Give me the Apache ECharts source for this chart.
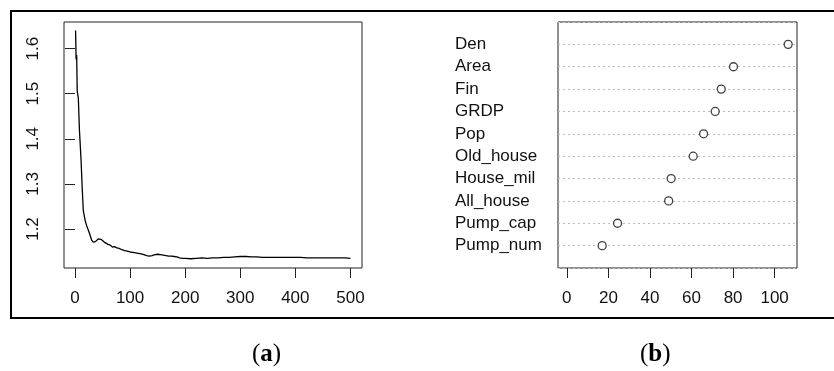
<!DOCTYPE html>
<html>
<head>
<meta charset="utf-8">
<script src="https://cdn.jsdelivr.net/npm/echarts@6/dist/echarts.min.js"></script>
<style>
html,body{margin:0;padding:0;background:#fff;}
#chart{width:834px;height:371px;}
</style>
</head>
<body>
<div id="chart"></div>
<script>
// Panel (a): error vs number of trees
const treeX = [1,2,3,4,5,6,8,11,13,15,17,19,21,23,26,28,30,33,35,37,39,42,44,47,50,53,56,60,64,68,72,76,80,85,90,95,100,105,110,115,120,125,130,135,140,145,150,155,160,165,170,175,180,185,190,195,200,210,220,230,240,250,260,270,280,290,300,310,320,330,340,350,360,370,380,390,400,410,420,430,440,450,460,470,480,490,500];
const treeErr = [1.640,1.576,1.586,1.505,1.503,1.491,1.420,1.352,1.293,1.241,1.228,1.216,1.208,1.204,1.191,1.184,1.176,1.171,1.168,1.172,1.176,1.178,1.179,1.177,1.173,1.171,1.168,1.166,1.164,1.160,1.161,1.158,1.157,1.154,1.152,1.151,1.149,1.148,1.147,1.146,1.145,1.143,1.141,1.140,1.141,1.143,1.144,1.143,1.142,1.141,1.140,1.140,1.139,1.138,1.136,1.135,1.135,1.134,1.135,1.136,1.135,1.136,1.136,1.137,1.137,1.138,1.139,1.139,1.138,1.138,1.137,1.137,1.137,1.137,1.137,1.137,1.137,1.137,1.136,1.136,1.136,1.136,1.136,1.136,1.136,1.136,1.135];
const aXTicks = [0,100,200,300,400,500];
const aYTicks = [1.2,1.3,1.4,1.5,1.6];

// Panel (b): variable importance (top to bottom)
const varNames = ["Den","Area","Fin","GRDP","Pop","Old_house","House_mil","All_house","Pump_cap","Pump_num"];
const varImp = [106.5,80.2,74.3,71.4,65.8,60.8,50.2,49.0,24.4,17.0];
const bXTicks = [0,20,40,60,80,100];

const n = varNames.length;
const dotData = varNames.map((nm,i)=>[varImp[i], n - i]);
const lineData = treeX.map((x,i)=>[x, treeErr[i]]);

const font = 'Liberation Sans, Arial, sans-serif';
const chart = echarts.init(document.getElementById('chart'), null, {renderer:'canvas'});
chart.setOption({
  animation:false,
  backgroundColor:'#fff',
  grid:[
    {left:64, top:22, width:298, height:246, show:true, borderColor:'#222', borderWidth:1, backgroundColor:'transparent'},
    {left:558, top:22, width:239, height:246, show:true, borderColor:'#222', borderWidth:1, backgroundColor:'transparent'}
  ],
  xAxis:[
    {type:'value', gridIndex:0, min:-20, max:521,
     axisLine:{show:false}, splitLine:{show:false},
     axisTick:{show:true, length:10, customValues:aXTicks, lineStyle:{color:'#222', width:1}},
     axisLabel:{customValues:aXTicks, color:'#111', fontSize:17, fontFamily:font, margin:22}},
    {type:'value', gridIndex:1, min:-4.26, max:110.76,
     axisLine:{show:false}, splitLine:{show:false},
     axisTick:{show:true, length:10, customValues:bXTicks, lineStyle:{color:'#222', width:1}},
     axisLabel:{customValues:bXTicks, color:'#111', fontSize:17, fontFamily:font, margin:22}}
  ],
  yAxis:[
    {type:'value', gridIndex:0, min:1.1135, max:1.659,
     axisLine:{show:false}, splitLine:{show:false},
     axisTick:{show:true, length:10, customValues:aYTicks, lineStyle:{color:'#222', width:1}},
     axisLabel:{customValues:aYTicks, rotate:90, color:'#111', fontSize:17, fontFamily:font, margin:22,
       formatter:v=>v.toFixed(1)}},
    {type:'value', gridIndex:1, min:0, max:11, interval:1,
     axisLine:{show:false}, axisTick:{show:false},
     splitLine:{show:true, lineStyle:{color:'#bbb', type:[2,3], width:1}},
     axisLabel:{color:'#111', fontSize:17, fontFamily:font, margin:103, align:'left',
       formatter:v=>{const i = n - v; return (v>=1 && v<=n) ? varNames[i] : '';}}}
  ],
  series:[
    {type:'line', xAxisIndex:0, yAxisIndex:0, data:lineData, showSymbol:false, symbol:'none',
     lineStyle:{color:'#000', width:1.3}},
    {type:'scatter', xAxisIndex:1, yAxisIndex:1, data:dotData, symbol:'circle', symbolSize:8,
     itemStyle:{color:'#fff', borderColor:'#111', borderWidth:1.3}}
  ],
  graphic:[
    {type:'polyline', silent:true, shape:{points:[[840,11],[11,11],[11,318],[840,318]]},
     style:{stroke:'#000', lineWidth:2, fill:null}},
    {type:'text', left:252, top:342, style:{text:'({b|a})', font:'25px "Liberation Serif", serif', fill:'#000',
      rich:{b:{font:'bold 25px "Liberation Serif", serif', fill:'#000'}}}},
    {type:'text', left:640, top:342, style:{text:'({b|b})', font:'25px "Liberation Serif", serif', fill:'#000',
      rich:{b:{font:'bold 25px "Liberation Serif", serif', fill:'#000'}}}}
  ]
});
</script>
</body>
</html>
